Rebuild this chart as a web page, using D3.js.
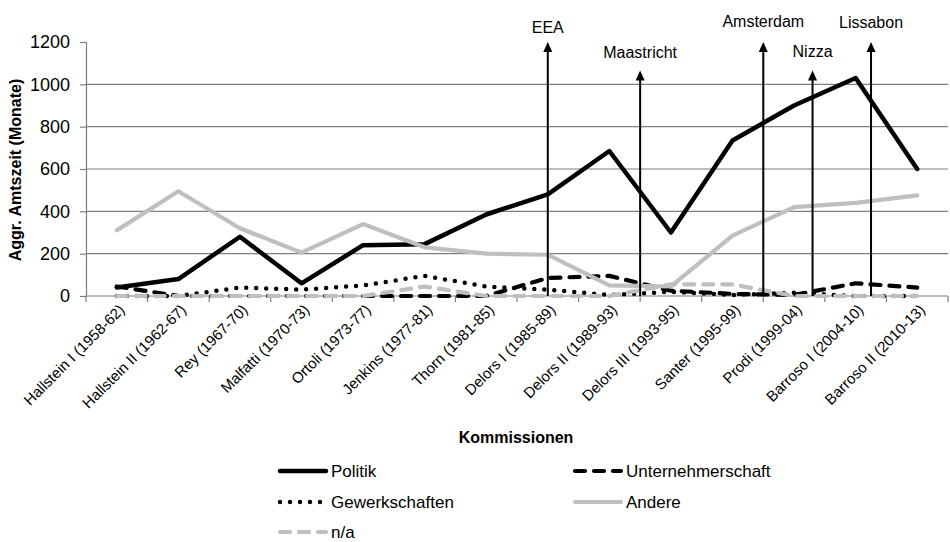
<!DOCTYPE html>
<html>
<head>
<meta charset="utf-8">
<script src="https://cdn.jsdelivr.net/npm/d3@7"></script>
<style>
  html, body { margin: 0; padding: 0; background: #fff; }
  svg { display: block; font-family: "Liberation Sans", Arial, sans-serif; }
</style>
</head>
<body>
<svg id="chart" width="950" height="542"></svg>
<script>
// Commissions (x categories)
const commissions = [
  "Hallstein I (1958-62)", "Hallstein II (1962-67)", "Rey (1967-70)", "Malfatti (1970-73)",
  "Ortoli (1973-77)", "Jenkins (1977-81)", "Thorn (1981-85)", "Delors I (1985-89)",
  "Delors II (1989-93)", "Delors III (1993-95)", "Santer (1995-99)", "Prodi (1999-04)",
  "Barroso I (2004-10)", "Barroso II (2010-13)"
];

// Aggregated time in office (months) per background group
const politik           = [40, 80, 280, 60, 240, 245, 385, 480, 685, 300, 735, 900, 1030, 600];
const unternehmerschaft = [45, 0, 0, 0, 0, 0, 0, 85, 95, 25, 10, 5, 60, 40];
const gewerkschaften    = [0, 0, 40, 30, 50, 95, 45, 30, 5, 20, 5, 15, 0, 0];
const andere            = [310, 495, 320, 205, 340, 230, 200, 195, 50, 45, 285, 420, 440, 475];
const na                = [0, 0, 0, 0, 0, 45, 0, 0, 0, 55, 55, 0, 0, 0];

const seriesNames = ["Politik", "Unternehmerschaft", "Gewerkschaften", "Andere", "n/a"];
const seriesValues = [politik, unternehmerschaft, gewerkschaften, andere, na];

// y-axis ticks
const yTicks = [0, 200, 400, 600, 800, 1000, 1200];

// Treaties marked with arrows (position in commission index units, arrow top in months)
const treaties   = ["EEA", "Maastricht", "Amsterdam", "Nizza", "Lissabon"];
const treatyPos  = [7, 8.5, 10.5, 11.3, 12.25];
const treatyTop  = [1200, 1065, 1200, 1065, 1200];

// ---- drawing ----
const styles = {
  "Politik":           { color: "#000000", width: 4.5, dash: null },
  "Unternehmerschaft": { color: "#000000", width: 4.2, dash: "10 9" },
  "Gewerkschaften":    { color: "#000000", width: 4.5, dash: "0 10" },
  "Andere":            { color: "#bfbfbf", width: 4.2, dash: null },
  "n/a":               { color: "#bfbfbf", width: 4.2, dash: "10 9" }
};

const svg = d3.select("#chart");
const plotLeft = 86, plotRight = 948, plotTop = 42, plotBottom = 296;

const x = d3.scalePoint().domain(commissions).range([plotLeft, plotRight]).padding(0.5);
const step = x.step();
const xPos = i => x(commissions[0]) + i * step;
const y = d3.scaleLinear().domain([0, 1200]).range([plotBottom, plotTop]);

const gridColor = "#7f7f7f";

// horizontal gridlines
svg.append("g").selectAll("line")
  .data(yTicks.filter(t => t > 0 && t < 1200))
  .join("line")
  .attr("x1", plotLeft).attr("x2", plotRight)
  .attr("y1", d => y(d)).attr("y2", d => y(d))
  .attr("stroke", gridColor).attr("stroke-width", 1.2);

// y axis
const yAxis = d3.axisLeft(y).tickValues(yTicks).tickFormat(d3.format("d"))
  .tickSize(6).tickPadding(10);
const gy = svg.append("g").attr("transform", `translate(${plotLeft},0)`).call(yAxis);
gy.select(".domain").attr("stroke", gridColor).attr("stroke-width", 1.2);
gy.selectAll(".tick line").attr("stroke", gridColor).attr("stroke-width", 1.2);
gy.selectAll(".tick text").attr("font-size", 18).attr("fill", "#000")
  .style("font-family", "'Liberation Sans', Arial, sans-serif");

// x axis line with ticks between categories
const gx = svg.append("g");
gx.append("line").attr("x1", plotLeft).attr("x2", plotRight).attr("y1", plotBottom).attr("y2", plotBottom)
  .attr("stroke", gridColor).attr("stroke-width", 1.2);
gx.selectAll("line.tk").data(d3.range(commissions.length + 1)).join("line")
  .attr("class", "tk")
  .attr("x1", i => plotLeft + i * step).attr("x2", i => plotLeft + i * step)
  .attr("y1", plotBottom).attr("y2", plotBottom + 6)
  .attr("stroke", gridColor).attr("stroke-width", 1.2);
gx.selectAll("text").data(commissions).join("text")
  .attr("transform", d => `translate(${x(d) + 5},${plotBottom + 11}) rotate(-45)`)
  .attr("text-anchor", "end")
  .attr("dy", "0.35em")
  .attr("font-size", 15)
  .text(d => d);

// axis titles
svg.append("text")
  .attr("transform", `translate(21,${(plotTop + plotBottom) / 2 + 1}) rotate(-90)`)
  .attr("text-anchor", "middle")
  .attr("font-size", 16).attr("font-weight", "bold")
  .text("Aggr. Amtszeit (Monate)");

svg.append("text")
  .attr("x", 516).attr("y", 443)
  .attr("text-anchor", "middle")
  .attr("font-size", 16).attr("font-weight", "bold")
  .text("Kommissionen");

// series lines
const line = d3.line().x((d, i) => x(commissions[i])).y(d => y(d));
seriesNames.forEach((name, k) => {
  const s = styles[name];
  svg.append("path")
    .datum(seriesValues[k])
    .attr("d", line)
    .attr("fill", "none")
    .attr("stroke", s.color)
    .attr("stroke-width", s.width)
    .attr("stroke-linejoin", "round")
    .attr("stroke-linecap", "round")
    .attr("stroke-dasharray", s.dash);
});

// treaty arrows
const labelLift = [15, 19, 21, 20, 20];
const arrows = svg.append("g");
treaties.forEach((t, i) => {
  const ax = xPos(treatyPos[i]);
  const ty = y(treatyTop[i]);
  arrows.append("line")
    .attr("x1", ax).attr("x2", ax)
    .attr("y1", plotBottom).attr("y2", ty + 8)
    .attr("stroke", "#000").attr("stroke-width", 2);
  arrows.append("path")
    .attr("d", `M${ax},${ty} L${ax - 4.5},${ty + 10} L${ax + 4.5},${ty + 10} Z`)
    .attr("fill", "#000");
  arrows.append("text")
    .attr("x", ax).attr("y", ty - labelLift[i] + 6)
    .attr("text-anchor", "middle")
    .attr("font-size", 16)
    .text(t);
});

// legend
const legendCols = [278, 573];
const legendRows = [471, 502, 532];
const lg = svg.append("g");
seriesNames.forEach((name, k) => {
  const s = styles[name];
  const lx = legendCols[k % 2];
  const ly = legendRows[Math.floor(k / 2)];
  lg.append("line")
    .attr("x1", lx + 2).attr("x2", lx + 48)
    .attr("y1", ly).attr("y2", ly)
    .attr("stroke", s.color)
    .attr("stroke-width", s.width)
    .attr("stroke-linecap", "round")
    .attr("stroke-dasharray", s.dash);
  lg.append("text")
    .attr("x", lx + 53).attr("y", ly)
    .attr("dy", "0.35em")
    .attr("font-size", 17)
    .text(name);
});
</script>
</body>
</html>
